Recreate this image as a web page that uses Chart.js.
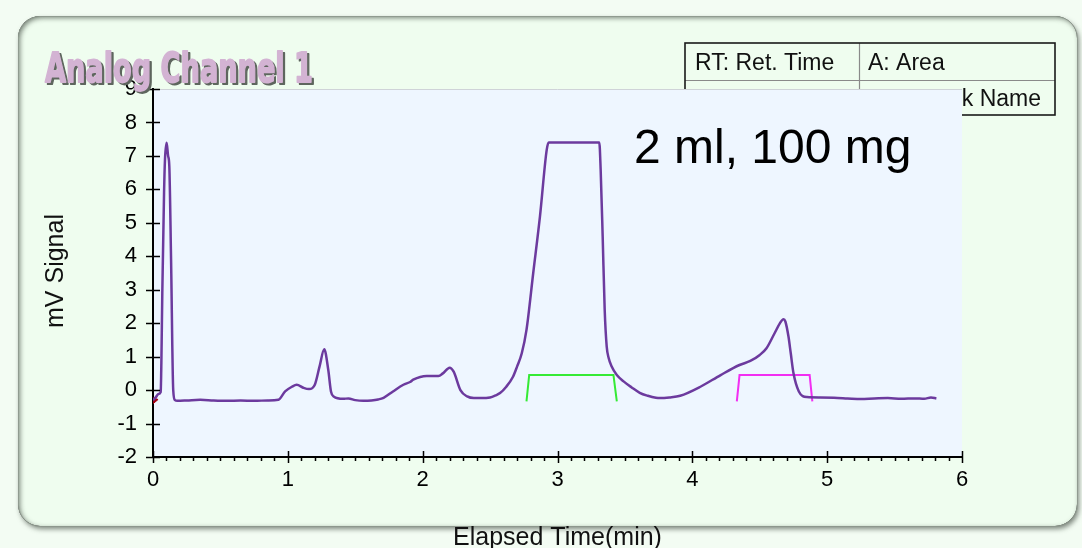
<!DOCTYPE html>
<html>
<head>
<meta charset="utf-8">
<script src="https://cdn.jsdelivr.net/npm/chart.js@4.4.1/dist/chart.umd.min.js"></script>
<style>
  html, body { margin: 0; padding: 0; background: #f3fcf3; overflow: hidden; }
  #wrap { width: 1082px; height: 548px; position: relative; }
</style>
</head>
<body>
<div id="wrap"><canvas id="chart" width="1082" height="548"></canvas></div>
<script>
// Detector trace: elapsed time (min) and signal (mV)
const timeMin = [
  0.00, 0.02, 0.04, 0.057, 0.062, 0.069, 0.082, 0.089, 0.101, 0.112, 0.121, 0.134, 0.150, 0.163, 0.18,
  0.25, 0.35, 0.45, 0.55, 0.65, 0.75, 0.85, 0.93, 0.98, 1.03, 1.066, 1.115, 1.157, 1.20, 1.235,
  1.27, 1.30, 1.32, 1.34, 1.41, 1.45, 1.50, 1.56, 1.62, 1.67, 1.71, 1.78, 1.857, 1.91, 1.93,
  2.03, 2.117, 2.15, 2.20, 2.23, 2.28, 2.33, 2.38, 2.43, 2.50, 2.54, 2.574, 2.62, 2.67, 2.70,
  2.735, 2.77, 2.82, 2.87, 2.92, 2.935, 3.31, 3.32, 3.335, 3.35, 3.365, 3.38, 3.40, 3.44, 3.49,
  3.55, 3.61, 3.67, 3.73, 3.76, 3.83, 3.91, 4.06, 4.21, 4.35, 4.43, 4.50, 4.55, 4.61, 4.65,
  4.676, 4.69, 4.713, 4.73, 4.75, 4.79, 4.85, 4.95, 5.05, 5.15, 5.25, 5.35, 5.45, 5.55, 5.65,
  5.72, 5.77, 5.81
];
const signalMv = [
  -0.30, -0.22, -0.12, -0.06, 0.80, 2.90, 5.90, 6.90, 7.39, 7.00, 6.69, 3.90, 0.00, -0.30, -0.32,
  -0.31, -0.29, -0.31, -0.32, -0.31, -0.32, -0.31, -0.29, -0.04, 0.10, 0.16, 0.07, 0.03, 0.16, 0.70,
  1.22, 0.60, -0.04, -0.19, -0.26, -0.25, -0.30, -0.32, -0.31, -0.28, -0.23, -0.04, 0.16, 0.25, 0.31,
  0.42, 0.42, 0.50, 0.67, 0.55, 0.00, -0.19, -0.24, -0.24, -0.22, -0.16, -0.09, 0.10, 0.40, 0.70,
  1.10, 1.80, 3.50, 5.19, 7.18, 7.40, 7.40, 6.60, 4.60, 2.40, 1.30, 0.95, 0.72, 0.45, 0.26,
  0.08, -0.08, -0.17, -0.23, -0.24, -0.22, -0.17, 0.10, 0.45, 0.75, 0.87, 1.05, 1.25, 1.70, 2.00,
  2.12, 2.05, 1.60, 1.10, 0.51, -0.04, -0.21, -0.22, -0.23, -0.25, -0.27, -0.25, -0.24, -0.26, -0.25,
  -0.26, -0.22, -0.25
];

// Integration baselines of the two detected peaks
const peakATime = [2.77, 2.79, 3.415, 3.44];
const peakALevel = [-0.34, 0.45, 0.45, -0.34];
const peakBTime = [4.33, 4.35, 4.87, 4.89];
const peakBLevel = [-0.34, 0.45, 0.45, -0.34];

// Run start marker
const startTime = [0.012];
const startLevel = [-0.30];

// Axis ticks
const xTickValues = [0, 1, 2, 3, 4, 5, 6];
const yTickValues = [-2, -1, 0, 1, 2, 3, 4, 5, 6, 7, 8, 9];
const xMinorStep = 0.1;

// Texts
const chartTitle = 'Analog Channel 1';
const sampleNote = '2 ml, 100 mg';
const xAxisTitle = 'Elapsed Time(min)';
const yAxisTitle = 'mV Signal';
const keyRows = [['RT: Ret. Time', 'A: Area'], ['', 'Peak Name']];

const toPoints = (xs, ys) => xs.map((v, i) => ({ x: v, y: ys[i] }));

function roundRectPath(ctx, x, y, w, h, r) {
  ctx.beginPath();
  ctx.moveTo(x + r, y);
  ctx.lineTo(x + w - r, y);
  ctx.arcTo(x + w, y, x + w, y + r, r);
  ctx.lineTo(x + w, y + h - r);
  ctx.arcTo(x + w, y + h, x + w - r, y + h, r);
  ctx.lineTo(x + r, y + h);
  ctx.arcTo(x, y + h, x, y + h - r, r);
  ctx.lineTo(x, y + r);
  ctx.arcTo(x, y, x + r, y, r);
  ctx.closePath();
}

const panelPlugin = {
  id: 'panel',
  beforeDraw(chart) {
    const { ctx, width, height, chartArea: a } = chart;
    const px = 18, py = 16, pw = 1059, ph = 510, pr = 22;
    ctx.save();
    ctx.fillStyle = '#f3fcf3';
    ctx.fillRect(0, 0, width, height);

    // raised panel with drop shadow
    ctx.save();
    roundRectPath(ctx, px, py, pw, ph, pr);
    ctx.shadowColor = 'rgba(50,60,50,0.6)';
    ctx.shadowBlur = 5;
    ctx.shadowOffsetX = 2;
    ctx.shadowOffsetY = 3;
    ctx.fillStyle = '#effdef';
    ctx.fill();
    ctx.restore();

    // inset shading along the top and left edges
    ctx.save();
    roundRectPath(ctx, px, py, pw, ph, pr);
    ctx.clip();
    ctx.beginPath();
    ctx.rect(-200, -200, width + 400, height + 400);
    ctx.moveTo(px + pr, py);
    ctx.arcTo(px, py, px, py + pr, pr);
    ctx.lineTo(px, py + ph - pr);
    ctx.arcTo(px, py + ph, px + pr, py + ph, pr);
    ctx.lineTo(px + pw - pr, py + ph);
    ctx.arcTo(px + pw, py + ph, px + pw, py + ph - pr, pr);
    ctx.lineTo(px + pw, py + pr);
    ctx.arcTo(px + pw, py, px + pw - pr, py, pr);
    ctx.closePath();
    ctx.shadowColor = 'rgba(60,70,60,0.65)';
    ctx.shadowBlur = 5;
    ctx.shadowOffsetX = 2;
    ctx.shadowOffsetY = 2;
    ctx.fillStyle = '#000';
    ctx.fill('evenodd');
    ctx.restore();

    roundRectPath(ctx, px + 0.5, py + 0.5, pw, ph, pr);
    ctx.strokeStyle = 'rgba(140,150,140,0.7)';
    ctx.lineWidth = 1;
    ctx.stroke();

    // key table
    const tx = 685, ty = 43, tw = 370, th = 72, colX = 859, rowY = 80;
    ctx.strokeStyle = '#8a8a8a';
    ctx.lineWidth = 1.2;
    ctx.beginPath();
    ctx.moveTo(tx, rowY + 0.5); ctx.lineTo(tx + tw, rowY + 0.5);
    ctx.moveTo(colX + 0.5, ty); ctx.lineTo(colX + 0.5, ty + th);
    ctx.stroke();
    ctx.strokeStyle = '#1a1a1a';
    ctx.lineWidth = 1.6;
    ctx.strokeRect(tx, ty, tw, th);
    ctx.fillStyle = '#111';
    ctx.font = '23px "Liberation Sans", Arial, sans-serif';
    ctx.textBaseline = 'alphabetic';
    ctx.textAlign = 'left';
    ctx.fillText(keyRows[0][0], 695, 70);
    ctx.fillText(keyRows[0][1], 868, 70);
    ctx.textAlign = 'right';
    ctx.fillText(keyRows[1][1], 1041, 106);

    // plotting area background
    ctx.fillStyle = '#eef6ff';
    ctx.fillRect(a.left, a.top, a.right - a.left, a.bottom - a.top);
    ctx.strokeStyle = '#cfd3d8';
    ctx.lineWidth = 1;
    ctx.beginPath();
    ctx.moveTo(a.left, a.top + 0.5);
    ctx.lineTo(a.right, a.top + 0.5);
    ctx.stroke();
    ctx.restore();
  },
  afterDraw(chart) {
    const { ctx, chartArea: a, scales: { x, y } } = chart;
    ctx.save();
    ctx.strokeStyle = '#000';
    ctx.lineWidth = 1.5;
    ctx.beginPath();
    // y ticks cross the axis
    yTickValues.forEach(v => {
      const p = Math.round(y.getPixelForValue(v)) + 0.5;
      ctx.moveTo(a.left - 7, p);
      ctx.lineTo(a.left + 7, p);
    });
    // x major and minor ticks
    const n = Math.round((x.max - x.min) / xMinorStep);
    for (let i = 0; i <= n; i++) {
      const v = x.min + i * xMinorStep;
      const p = Math.round(x.getPixelForValue(v)) + 0.5;
      if (i % 10 === 0) {
        ctx.moveTo(p, a.bottom - 6);
        ctx.lineTo(p, a.bottom + 6);
      } else {
        ctx.moveTo(p, a.bottom);
        ctx.lineTo(p, a.bottom + 4);
      }
    }
    ctx.stroke();

    // axis titles
    ctx.fillStyle = '#111';
    ctx.font = '25px "Liberation Sans", Arial, sans-serif';
    ctx.textAlign = 'center';
    ctx.textBaseline = 'alphabetic';
    ctx.fillText(xAxisTitle, (a.left + a.right) / 2, 545);
    ctx.save();
    ctx.translate(63, 271);
    ctx.rotate(-Math.PI / 2);
    ctx.fillText(yAxisTitle, 0, 0);
    ctx.restore();

    // sample note
    ctx.fillStyle = '#000';
    ctx.font = '48px "Liberation Sans", Arial, sans-serif';
    ctx.textAlign = 'left';
    ctx.fillText(sampleNote, 634, 163);

    // embossed chart title
    ctx.font = 'bold 41px "DejaVu Sans"';
    const w = ctx.measureText(chartTitle).width;
    const sx = 268 / w;
    ctx.translate(45, 82);
    ctx.scale(sx, 1);
    ctx.lineJoin = 'round';
    ctx.lineWidth = 1.8;
    ctx.fillStyle = '#5e665e';
    ctx.strokeStyle = '#5e665e';
    ctx.fillText(chartTitle, 2.2 / sx, 2);
    ctx.strokeText(chartTitle, 2.2 / sx, 2);
    ctx.fillStyle = '#d3b3d3';
    ctx.strokeStyle = '#d3b3d3';
    ctx.fillText(chartTitle, 0, 0);
    ctx.strokeText(chartTitle, 0, 0);
    ctx.restore();
  }
};

const tickFont = { family: '"Liberation Sans", Arial, sans-serif', size: 22 };

new Chart(document.getElementById('chart'), {
  type: 'scatter',
  data: {
    datasets: [
      {
        data: toPoints(timeMin, signalMv),
        showLine: true,
        borderColor: '#6c3a9e',
        borderWidth: 2.5,
        pointRadius: 0,
        cubicInterpolationMode: 'monotone'
      },
      {
        data: toPoints(peakATime, peakALevel),
        showLine: true,
        borderColor: '#35ea35',
        borderWidth: 2,
        pointRadius: 0
      },
      {
        data: toPoints(peakBTime, peakBLevel),
        showLine: true,
        borderColor: '#f22ef2',
        borderWidth: 2,
        pointRadius: 0
      },
      {
        data: toPoints(startTime, startLevel),
        showLine: false,
        pointStyle: 'triangle',
        rotation: 200,
        pointRadius: 3.5,
        backgroundColor: '#a40010',
        borderColor: '#a40010',
        borderWidth: 1
      }
    ]
  },
  options: {
    responsive: false,
    animation: false,
    devicePixelRatio: 1,
    layout: { padding: { left: 0, right: 120, top: 89, bottom: 0 } },
    plugins: { legend: { display: false }, tooltip: { enabled: false } },
    scales: {
      x: {
        type: 'linear',
        min: 0,
        max: 6,
        afterFit(s) { s.height = 91; },
        afterBuildTicks(s) { s.ticks = xTickValues.map(v => ({ value: v })); },
        grid: { drawOnChartArea: false, drawTicks: false },
        border: { color: '#000', width: 2 },
        ticks: { padding: 10, color: '#000', font: tickFont, maxRotation: 0, autoSkip: false }
      },
      y: {
        type: 'linear',
        min: -2,
        max: 9,
        afterFit(s) { s.width = 153; },
        afterBuildTicks(s) { s.ticks = yTickValues.map(v => ({ value: v })); },
        grid: { drawOnChartArea: false, drawTicks: true, tickLength: 7, tickColor: 'rgba(0,0,0,0)' },
        border: { color: '#000', width: 2 },
        ticks: { padding: 9, color: '#000', font: tickFont, autoSkip: false }
      }
    }
  },
  plugins: [panelPlugin]
});
</script>
</body>
</html>
